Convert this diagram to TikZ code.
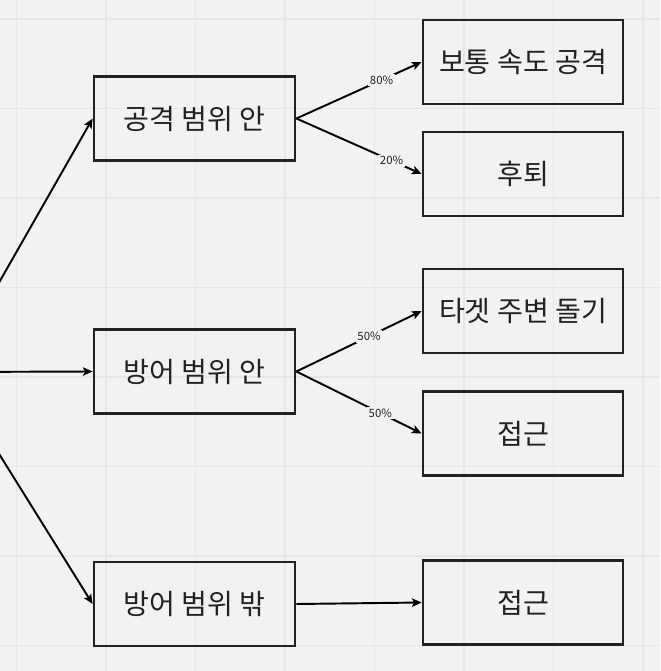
\documentclass[tikz,border=0pt]{standalone}
\usepackage{fontspec}
\setmainfont{Noto Sans CJK KR}
\usetikzlibrary{arrows.meta,positioning}
\definecolor{bgray}{HTML}{F2F2F2}
\definecolor{gridgray}{HTML}{E6E6E6}
\definecolor{ink}{HTML}{222222}

\begin{document}
\begin{tikzpicture}[x=0.02cm,y=-0.02cm,
  box/.style={draw=ink,line width=1.6pt,minimum width=4.02cm,minimum height=1.68cm,inner sep=0pt,font=\fontsize{16}{18}\selectfont,text=ink},
  link/.style={line width=1.1pt,-{Stealth[length=5.5pt,width=4.8pt,inset=1.2pt]}},
  pct/.style={fill=bgray,inner sep=1pt,font=\fontsize{6.5}{7.5}\selectfont,text=ink}]
\clip (0,0) rectangle (660,671);
\fill[bgray] (0,0) rectangle (660,671);
\foreach \k in {0,...,7}{
  \draw[gridgray,line width=0.6pt] (16.5+89.5*\k,0) -- (16.5+89.5*\k,671);
  \draw[gridgray,line width=0.6pt] (0,19+89.5*\k) -- (660,19+89.5*\k);
}
\coordinate (src) at (-52,372);
\node[box] (inAtk) at (194.5,118.5) {공격 범위 안};
\node[box] (inDef) at (194.5,371.5) {방어 범위 안};
\node[box] (outDef) at (194.5,604) {방어 범위 밖};
\node[box,minimum width=4cm] (normAtk) at (523,62) {보통 속도 공격};
\node[box,minimum width=4cm] (retreat) at (523,174) {후퇴};
\node[box,minimum width=4cm] (circleTgt) at (523,311) {타겟 주변 돌기};
\node[box,minimum width=4cm] (approach) at (523,433.5) {접근};
\node[box,minimum width=4cm] (approachB) at (523,602.5) {접근};
\draw[link] (src) -- (inAtk.west);
\draw[link] (src) -- (inDef.west);
\draw[link] (src) -- (outDef.west);
\draw[link] (inAtk.east) -- node[pct,pos=0.68]{80\%} (normAtk.west);
\draw[link] (inAtk.east) -- node[pct,pos=0.76]{20\%} (retreat.west);
\draw[link] (inDef.east) -- node[pct,pos=0.58]{50\%} (circleTgt.west);
\draw[link] (inDef.east) -- node[pct,pos=0.67]{50\%} (approach.west);
\draw[link] (outDef.east) -- (approachB.west);
\end{tikzpicture}
\end{document}
